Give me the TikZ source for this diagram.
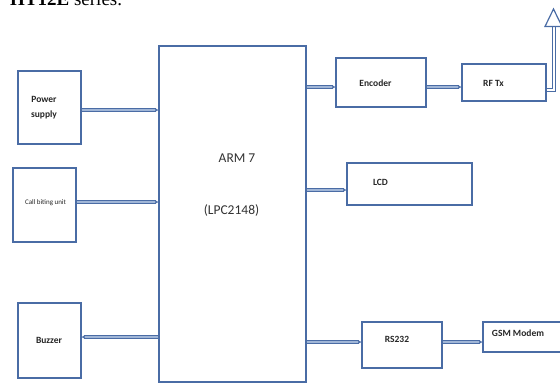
\documentclass[tikz,border=0pt]{standalone}
\usepackage{fontspec}
\setmainfont{Carlito}
\newfontfamily\docserif{Liberation Serif}
\usetikzlibrary{arrows.meta}
\definecolor{bluec}{RGB}{74,108,165}
\definecolor{bluel}{RGB}{160,182,215}
\tikzset{
  blk/.style={draw=bluec, line width=1.3pt, fill=white, rectangle, inner sep=0pt},
  lbl/.style={font=\bfseries\fontsize{9.5}{11}\selectfont, text=black!85, inner sep=0pt, align=center},
  big/.style={font=\fontsize{13.5}{15}\selectfont, text=black!80, inner sep=0pt},
  conn/.style={draw=bluec, line width=1.3pt, double=bluel, double distance=1.5pt, -{Latex[length=3pt,width=4pt]}},
  antline/.style={draw=bluec, line width=1.1pt, double=white, double distance=2.4pt}
}
\begin{document}
\begin{tikzpicture}[x=1pt,y=-1pt]
\useasboundingbox (0,0) rectangle (560,383);
\clip (0,0) rectangle (560,383);
% clipped caption line from the page above
\node[anchor=base west, inner sep=0pt, font=\docserif\fontsize{19}{22}\selectfont] (cap) at (10,5) {\textbf{HT12E} series.};
% blocks
\node[blk, minimum width=147pt, minimum height=336pt] (arm) at (232.5,214) {};
\node[big] (armt) at (237,158) {ARM 7};
\node[big] (lpc) at (231.5,210) {(LPC2148)};
\node[blk, minimum width=63pt, minimum height=73pt] (power) at (49.5,107.5) {};
\node[lbl] (powert) at (44,108) {Power\\[4pt]supply};
\node[blk, minimum width=63pt, minimum height=74pt] (call) at (44.5,205) {};
\node[lbl, font=\fontsize{7}{8}\selectfont] (callt) at (45.5,203) {Call biting unit};
\node[blk, minimum width=63pt, minimum height=75pt] (buzzer) at (49.5,340.5) {};
\node[lbl] (buzzert) at (49,340) {Buzzer};
\node[blk, minimum width=90pt, minimum height=49pt] (enc) at (381,82.5) {};
\node[lbl] (enct) at (375.5,83) {Encoder};
\node[blk, minimum width=84pt, minimum height=37pt] (rftx) at (504,82.5) {};
\node[lbl] (rftxt) at (493.5,83) {RF Tx};
\node[blk, minimum width=125pt, minimum height=42pt] (lcd) at (409.5,184) {};
\node[lbl] (lcdt) at (380.5,182) {LCD};
\node[blk, minimum width=80pt, minimum height=46pt] (rs) at (402,345) {};
\node[lbl] (rst) at (397,339) {RS232};
\node[blk, minimum width=90pt, minimum height=30pt] (gsm) at (528,337) {};
\node[lbl] (gsmt) at (518,333) {GSM Modem};
% connectors
\draw[conn] (power.east |- 0,110) -- (arm.west |- 0,110);
\draw[conn] (call.east |- 0,202) -- (arm.west |- 0,202);
\draw[conn] (arm.west |- 0,337) -- (buzzer.east |- 0,337);
\draw[conn] (arm.east |- 0,87) -- (enc.west |- 0,87);
\draw[conn] (enc.east |- 0,87) -- (rftx.west |- 0,87);
\draw[conn] (arm.east |- 0,190) -- (lcd.west |- 0,190);
\draw[conn] (arm.east |- 0,342) -- (rs.west |- 0,342);
\draw[conn] (rs.east |- 0,342) -- (gsm.west |- 0,342);
% antenna
\coordinate (anttop) at (554,26);
\draw[antline] (rftx.east |- 0,90) -| (anttop);
\draw[draw=bluec, line width=1.2pt, fill=white, line join=miter] (545,26.5) -- (553.5,9) -- (562,26.5) -- cycle;
\end{tikzpicture}
\end{document}
